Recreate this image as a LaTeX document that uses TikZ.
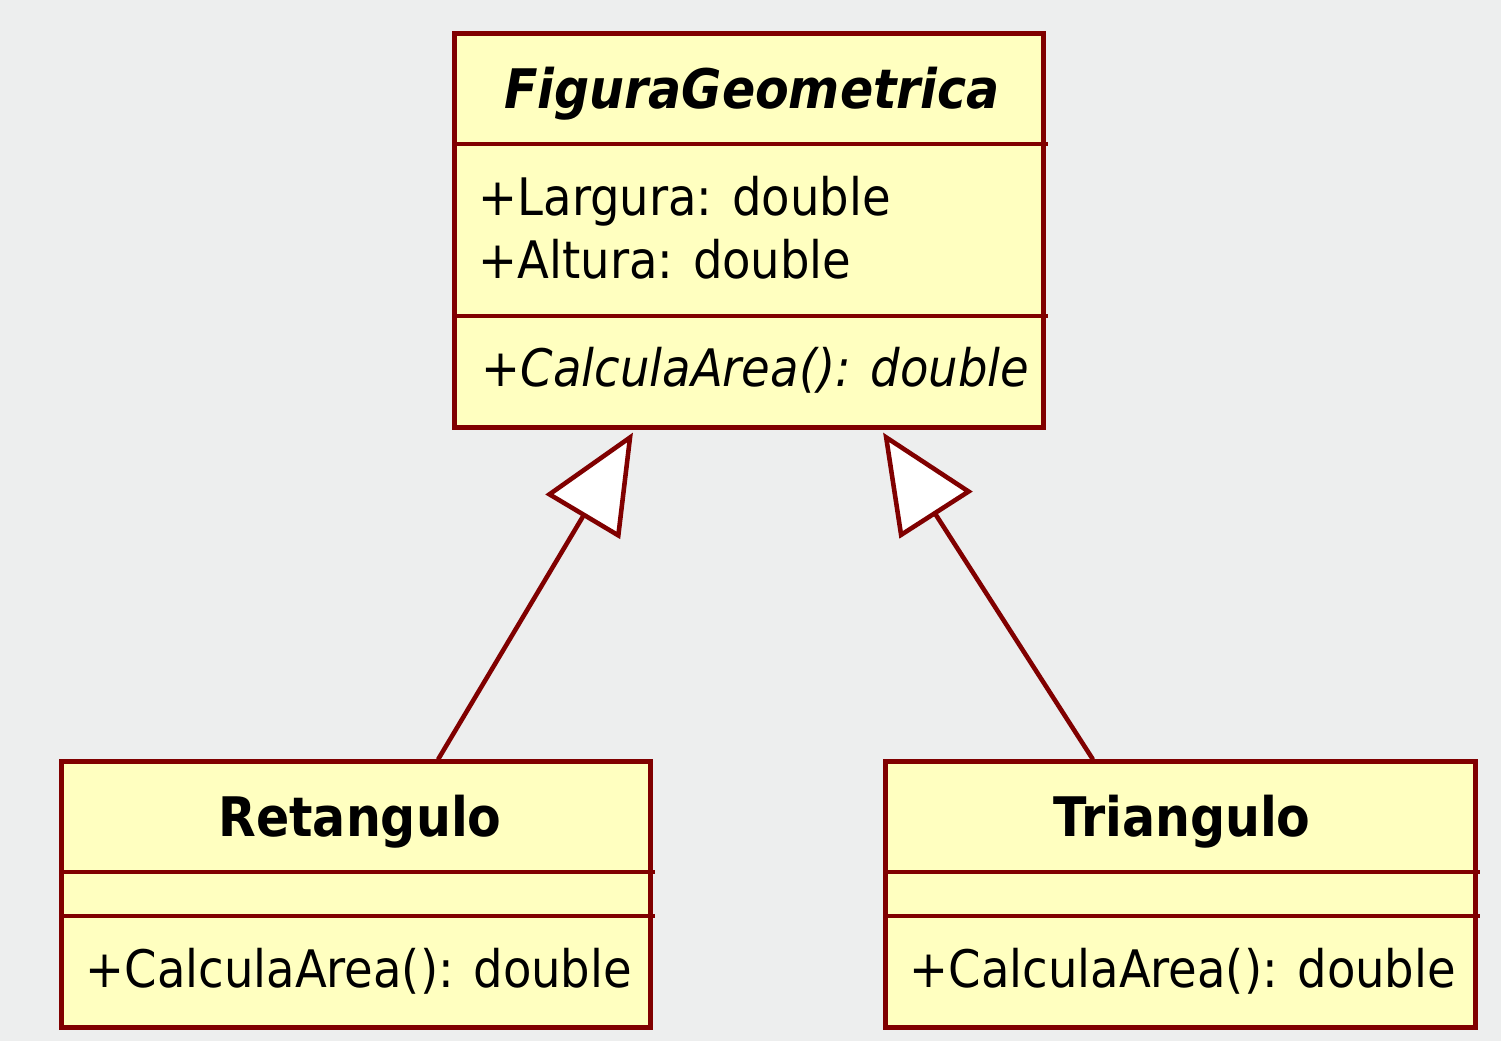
\documentclass[tikz,border=0pt]{standalone}
\usepackage{xcolor}
\usepackage{fontspec}
\setmainfont{DejaVu Sans Condensed}
\usepackage{tikz}
\usetikzlibrary{positioning,arrows.meta}

\definecolor{umlred}{HTML}{800000}
\definecolor{umlfill}{HTML}{FFFFC0}
\definecolor{bgray}{HTML}{EDEEEE}

\tikzset{
  classbox/.style={draw=umlred, fill=umlfill, line width=1.4pt, inner sep=0pt, minimum width=5.88cm},
  divider/.style={draw=umlred, line width=1.4pt},
  classname/.style={font=\fontsize{15.5}{18}\selectfont\bfseries, inner sep=0pt, anchor=base},
  member/.style={font=\fontsize{14.7}{17}\selectfont, inner sep=0pt, anchor=base west},
  inherits/.style={draw=umlred, line width=1.3pt, -{Triangle[length=0.98cm, width=0.86cm, fill=white]}}
}

\begin{document}
\begin{tikzpicture}[x=0.01cm, y=-0.01cm]

% background %
\fill[bgray] (0,0) rectangle (1501,1041);
\useasboundingbox (0,0) rectangle (1501,1041);

% nodes %
\node[classbox, minimum height=3.93cm] (fig) at (749,230.5) {};
\node[classbox, minimum height=2.65cm] (ret) at (356,894.5) {};
\node[classbox, minimum height=2.65cm, minimum width=5.89cm] (tri) at (1180.5,894.5) {};

\node[classname, font=\fontsize{15.5}{18}\selectfont\bfseries\itshape] (figname) at (752,108) {FiguraGeometrica};
\node[member] (larg) at (478,215) {+Largura: double};
\node[member] (alt) at (478,278) {+Altura: double};
\node[member, font=\fontsize{14.7}{17}\selectfont\itshape] (figarea) at (481,386) {+CalculaArea(): double};

\node[classname] (retname) at (360,836) {Retangulo};
\node[member] (retarea) at (85,987) {+CalculaArea(): double};

\node[classname] (triname) at (1182,836) {Triangulo};
\node[member] (triarea) at (909,987) {+CalculaArea(): double};

% compartments %
\draw[divider] (fig.west |- 0,144) -- (1048,144);
\draw[divider] (fig.west |- 0,316) -- (1048,316);
\draw[divider] (ret.west |- 0,872) -- (655,872);
\draw[divider] (ret.west |- 0,916) -- (655,916);
\draw[divider] (tri.west |- 0,872) -- (1480,872);
\draw[divider] (tri.west |- 0,916) -- (1480,916);

% edges %
\draw[inherits] ([xshift=0.82cm]ret.north) -- ([xshift=-1.16cm, yshift=-0.03cm]fig.south);
\draw[inherits] ([xshift=-0.875cm]tri.north) -- ([xshift=1.34cm, yshift=-0.03cm]fig.south);

\end{tikzpicture}
\end{document}
